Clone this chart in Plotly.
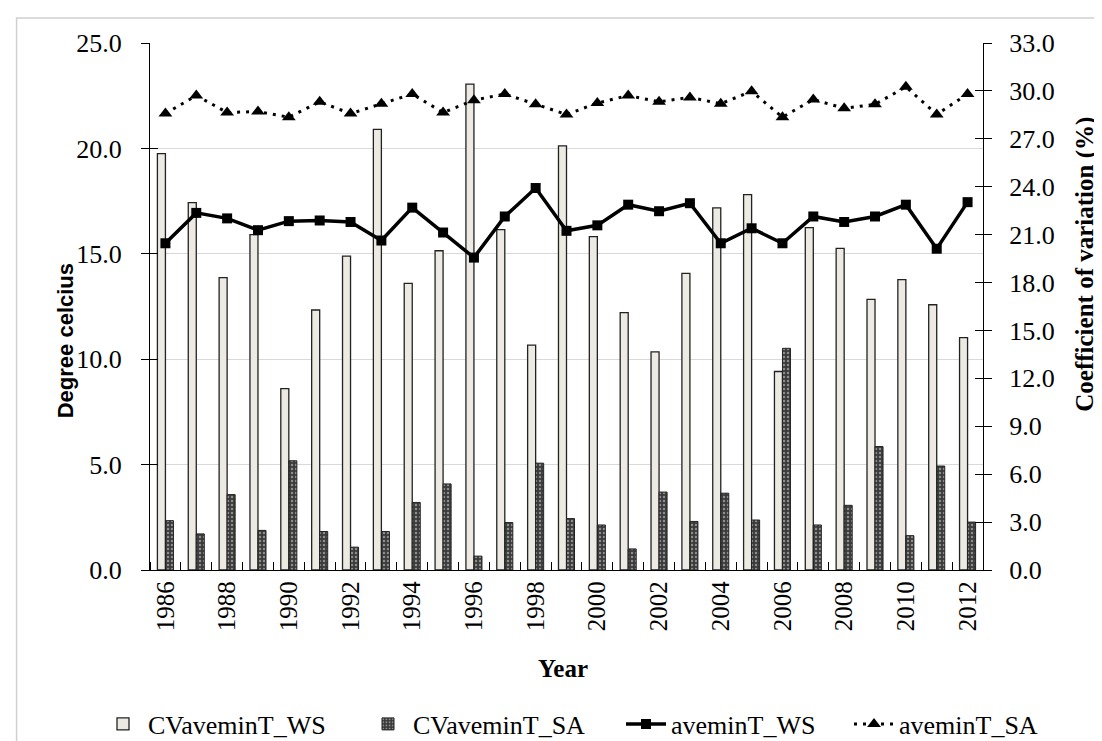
import plotly.graph_objects as go

years = list(range(1986, 2013))

avemin_ws = [15.50, 16.94, 16.68, 16.12, 16.55, 16.58, 16.51, 15.63, 17.19, 16.01,
             14.82, 16.77, 18.12, 16.09, 16.35, 17.33, 17.02, 17.40, 15.50, 16.21,
             15.50, 16.77, 16.51, 16.77, 17.33, 15.24, 17.45]
avemin_sa = [21.65, 22.51, 21.70, 21.75, 21.48, 22.21, 21.65, 22.12, 22.58, 21.70,
             22.29, 22.58, 22.09, 21.61, 22.15, 22.51, 22.21, 22.42, 22.12, 22.71,
             21.48, 22.32, 21.90, 22.09, 22.92, 21.61, 22.58]
cv_ws = [26.07, 23.00, 18.31, 21.00, 11.36, 16.28, 19.65, 27.59, 17.95, 19.99,
         30.43, 21.31, 14.08, 26.56, 20.88, 16.12, 13.66, 18.58, 22.67, 23.50,
         12.43, 21.44, 20.14, 16.95, 18.18, 16.61, 14.55]
cv_sa = [3.09, 2.26, 4.72, 2.48, 6.84, 2.41, 1.43, 2.41, 4.23, 5.39,
         0.87, 2.97, 6.69, 3.22, 2.82, 1.32, 4.88, 3.04, 4.81, 3.13,
         13.88, 2.82, 4.05, 7.73, 2.15, 6.51, 3.00]

left_ticks = [0, 5, 10, 15, 20, 25]
right_ticks = [0, 3, 6, 9, 12, 15, 18, 21, 24, 27, 30, 33]
year_labels = list(range(1986, 2013, 2))

SERIF = "Liberation Serif, Times New Roman, serif"
SANS = "Liberation Sans Narrow, Liberation Sans, Arial, sans-serif"

fig = go.Figure()

fig.add_trace(go.Bar(
    x=years, y=cv_ws, name="CVaveminT_WS", yaxis="y", legend="legend",
    marker=dict(color="#ECEAE2", line=dict(color="#222222", width=1.3)),
))
fig.add_trace(go.Bar(
    x=years, y=cv_sa, name="CVaveminT_SA", yaxis="y", legend="legend2",
    marker=dict(color="#3a3a3a", line=dict(color="#222222", width=1.0),
                pattern=dict(shape=".", fgcolor="#e0e0e0", bgcolor="#3a3a3a",
                             size=4, solidity=0.3)),
))
fig.add_trace(go.Scatter(
    x=years, y=avemin_ws, name="aveminT_WS", yaxis="y2", mode="lines+markers",
    legend="legend3",
    line=dict(color="black", width=3.5),
    marker=dict(symbol="square", size=10, color="black"),
))
fig.add_trace(go.Scatter(
    x=years, y=avemin_sa, name="aveminT_SA", yaxis="y2", mode="lines+markers",
    legend="legend4",
    line=dict(color="black", width=3, dash="3px,6px"),
    marker=dict(symbol="triangle-up", size=12, color="black"),
))
# invisible helpers so the inner tick halves are drawn
fig.add_trace(go.Scatter(x=[None], y=[None], yaxis="y3", showlegend=False, hoverinfo="skip"))
fig.add_trace(go.Scatter(x=[None], y=[None], yaxis="y4", showlegend=False, hoverinfo="skip"))

W, H = 1102, 741
L, R, T, B = 141.5, 975, 35, 562.5
pw, ph = R - L, B - T


def px(x):
    return (x - L) / pw


def py(y):
    return (B - y) / ph


def leg(xpix):
    return dict(
        orientation="h", x=xpix / W, xanchor="left", xref="container",
        y=(H - 716) / H, yanchor="middle", yref="container",
        font=dict(family=SERIF, size=26), itemwidth=40,
        bgcolor="rgba(0,0,0,0)",
    )


fig.update_layout(
    width=W, height=H,
    margin=dict(l=L, r=W - R, t=T, b=H - B),
    paper_bgcolor="white", plot_bgcolor="white",
    barmode="group", bargap=0.48, bargroupgap=0,
    font=dict(family=SERIF, size=26, color="black"),
    xaxis=dict(
        range=[1985.5, 2012.5], tickmode="array", tickvals=year_labels,
        ticktext=[str(y) for y in year_labels], tickangle=-90,
        ticks="", showline=True, linecolor="black", linewidth=1.3,
        showgrid=False, zeroline=False, ticklabelstandoff=0,
        tickfont=dict(family=SERIF, size=25),
        minor=dict(tick0=1985.5, dtick=1, ticks="inside", ticklen=8,
                   tickcolor="black", tickwidth=1.2, showgrid=False),
    ),
    yaxis=dict(
        side="right", range=[0, 33], tickmode="array", tickvals=right_ticks,
        tickformat=".1f", ticks="outside", ticklen=8, tickcolor="black", tickwidth=1.2,
        showline=True, linecolor="black", linewidth=1.3, showgrid=False, zeroline=False,
        tickfont=dict(family=SERIF, size=26), ticklabelstandoff=12,
        minor=dict(tick0=0, dtick=6.6, ticks="", showgrid=True,
                   gridcolor="#d9d9d9", gridwidth=1.2),
    ),
    yaxis2=dict(
        overlaying="y", side="left", range=[0, 25], tickmode="array", tickvals=left_ticks,
        tickformat=".1f", ticks="outside", ticklen=8, tickcolor="black", tickwidth=1.2,
        showline=True, linecolor="black", linewidth=1.3, showgrid=False, zeroline=False,
        tickfont=dict(family=SERIF, size=26), ticklabelstandoff=14,
    ),
    yaxis3=dict(
        overlaying="y", side="left", range=[0, 25], tickmode="array", tickvals=left_ticks,
        ticks="inside", ticklen=8, tickcolor="black", tickwidth=1.2,
        showticklabels=False, showline=False, showgrid=False, zeroline=False,
    ),
    yaxis4=dict(
        overlaying="y", side="right", range=[0, 33], tickmode="array", tickvals=right_ticks,
        ticks="inside", ticklen=8, tickcolor="black", tickwidth=1.2,
        showticklabels=False, showline=False, showgrid=False, zeroline=False,
    ),
    legend=leg(90),
    legend2=leg(355),
    legend3=leg(613),
    legend4=leg(841),
    showlegend=True,
    annotations=[
        dict(text="<b>Degree celcius</b>", x=px(57), y=py(333), xref="paper", yref="paper",
             textangle=-90, showarrow=False, xanchor="center", yanchor="middle",
             font=dict(family=SANS, size=22)),
        dict(text="<b>Year</b>", x=px(555), y=py(661), xref="paper", yref="paper",
             showarrow=False, xanchor="center", yanchor="middle",
             font=dict(family=SERIF, size=25)),
        dict(text="<b>Coefficient of variation (%)</b>", x=px(1077), y=py(256),
             xref="paper", yref="paper", textangle=-90, showarrow=False,
             xanchor="center", yanchor="middle", font=dict(family=SERIF, size=25)),
    ],
    shapes=[
        dict(type="rect", xref="paper", yref="paper", x0=px(8), x1=px(1096),
             y0=py(760), y1=py(10), line=dict(color="#d0d0d0", width=1.5),
             layer="below"),
    ],
)

fig.write_html("out.html")
